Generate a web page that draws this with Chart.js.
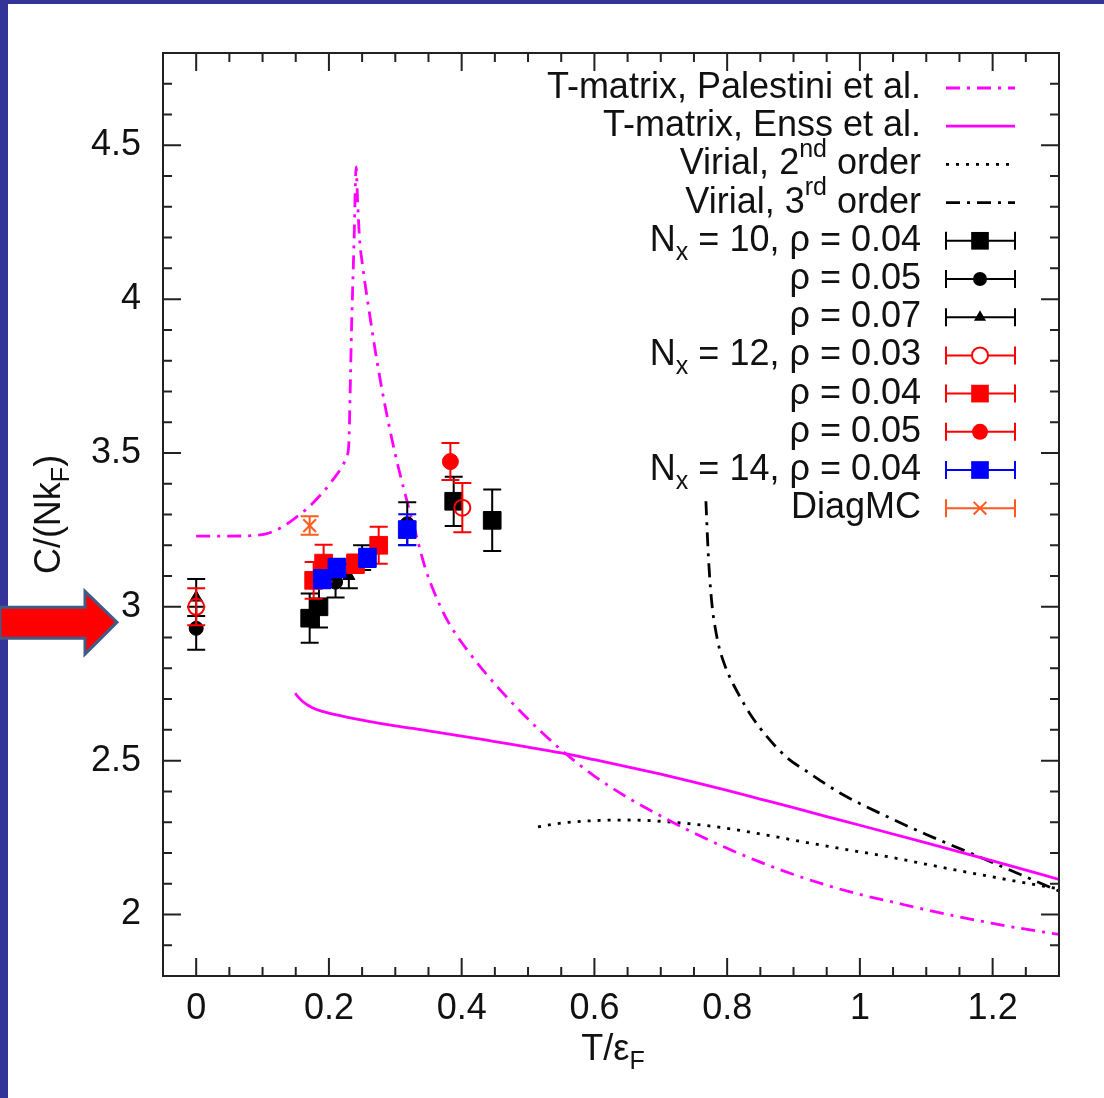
<!DOCTYPE html>
<html lang="en">
<head>
<meta charset="UTF-8">
<title>Contact C/(NkF) vs T/eF</title>
<script src="https://cdn.jsdelivr.net/npm/chart.js"></script>
<style>
  html, body { margin: 0; padding: 0; background: #fff; }
  #chartBox { width: 1104px; height: 1098px; position: relative; }
</style>
</head>
<body>
<div id="chartBox"><canvas id="contactChart" width="1104" height="1098"></canvas></div>
<script>
// ---- curves ----
const palestiniT = [0, 0.05, 0.09, 0.11, 0.13, 0.15, 0.17, 0.19, 0.205, 0.22, 0.227, 0.23, 0.232, 0.234, 0.236, 0.238, 0.241, 0.243, 0.246, 0.25, 0.26, 0.27, 0.28, 0.29, 0.3, 0.315, 0.33, 0.346, 0.36, 0.375, 0.39, 0.41, 0.43, 0.46, 0.5, 0.55, 0.6, 0.65, 0.7, 0.75, 0.8, 0.85, 0.9, 0.95, 1.0, 1.05, 1.1, 1.15, 1.2, 1.25, 1.3];
const palestiniC = [3.23, 3.23, 3.232, 3.24, 3.26, 3.29, 3.325, 3.37, 3.41, 3.457, 3.49, 3.53, 3.7, 3.9, 4.05, 4.2, 4.43, 4.33, 4.2, 4.12, 3.97, 3.83, 3.705, 3.595, 3.495, 3.365, 3.245, 3.12, 3.04, 2.97, 2.915, 2.855, 2.8, 2.725, 2.635, 2.535, 2.45, 2.38, 2.32, 2.265, 2.215, 2.17, 2.13, 2.095, 2.065, 2.04, 2.015, 1.992, 1.971, 1.952, 1.935];

const ennsT = [0.149, 0.16, 0.175, 0.19, 0.22, 0.26, 0.3, 0.35, 0.4, 0.45, 0.5, 0.55, 0.6, 0.65, 0.7, 0.75, 0.8, 0.85, 0.9, 0.95, 1.0, 1.1, 1.2, 1.3];
const ennsC = [2.719, 2.693, 2.672, 2.66, 2.645, 2.628, 2.613, 2.597, 2.58, 2.562, 2.544, 2.525, 2.503, 2.48, 2.456, 2.43, 2.403, 2.375, 2.347, 2.318, 2.29, 2.233, 2.174, 2.114];

const virial2T = [0.515, 0.55, 0.6, 0.65, 0.718, 0.8, 0.864, 0.95, 1.039, 1.155, 1.3];
const virial2C = [2.285, 2.297, 2.305, 2.307, 2.3, 2.28, 2.256, 2.222, 2.189, 2.14, 2.083];

const virial3T = [0.768, 0.771, 0.774, 0.778, 0.783, 0.788, 0.794, 0.8, 0.81, 0.82, 0.835, 0.86, 0.89, 0.922, 0.97, 1.039, 1.1, 1.155, 1.22, 1.3];
const virial3C = [3.343, 3.195, 3.086, 2.99, 2.92, 2.867, 2.825, 2.79, 2.745, 2.705, 2.65, 2.578, 2.51, 2.462, 2.395, 2.32, 2.26, 2.21, 2.15, 2.076];

// ---- lattice data with error bars ----
const n10r04T = [0.171, 0.185, 0.388, 0.446];
const n10r04C = [2.963, 3.0, 3.343, 3.281];
const n10r04E = [0.08, 0.067, 0.08, 0.1];

const n10r05T = [0, 0.21, 0.318];
const n10r05C = [2.93, 3.08, 3.27];
const n10r05E = [0.07, 0.05, 0.07];

const n10r07T = [0, 0.23, 0.25];
const n10r07C = [3.03, 3.1, 3.16];
const n10r07E = [0.06, 0.04, 0.04];

const n12r03T = [0, 0.401];
const n12r03C = [3.0, 3.322];
const n12r03E = [0.06, 0.08];

const n12r04T = [0.177, 0.192, 0.24, 0.275];
const n12r04C = [3.086, 3.142, 3.14, 3.2];
const n12r04E = [0.06, 0.06, 0.03, 0.06];

const n12r05T = [0.383];
const n12r05C = [3.472];
const n12r05E = [0.06];

const n14r04T = [0.19, 0.212, 0.258, 0.318];
const n14r04C = [3.09, 3.126, 3.159, 3.251];
const n14r04E = [0.03, 0.03, 0.03, 0.05];

const diagT = [0.171];
const diagC = [3.264];
const diagE = [0.03];

// ---- axes ----
const xTickValues = [0, 0.2, 0.4, 0.6, 0.8, 1, 1.2];
const yTickValues = [2, 2.5, 3, 3.5, 4, 4.5];
const arrowValue = 2.95;

const FONT = "'Liberation Sans', Arial, sans-serif";
const BIG = 36, SMALL = 25;
const MAGENTA = '#ff00ff', RED = '#ff0000', BLUE = '#0000ff', ORANGE = '#ff5a1f', BLACK = '#000000';

function zip(xs, ys) { return xs.map((x, i) => ({ x: x, y: ys[i] })); }

function curve(label, rich, xs, ys, color, dash) {
    return {
        label: label, rich: rich, data: zip(xs, ys),
        showLine: true, borderColor: color, borderWidth: 2.8, borderDash: dash,
        pointRadius: 0, cubicInterpolationMode: 'monotone', fill: false
    };
}
function points(label, rich, xs, ys, errs, color, style, r, open) {
    return {
        label: label, rich: rich, data: zip(xs, ys), errors: errs,
        showLine: false, pointStyle: style, pointRadius: r, pointHoverRadius: r,
        pointBackgroundColor: open ? 'rgba(0,0,0,0)' : color, pointBorderColor: color,
        pointBorderWidth: (open || style === 'crossRot') ? 2 : 1, errColor: color
    };
}

// first in the list is drawn on top
const datasets = [
    points('N_x = 14, rho = 0.04', [['N'], ['x', 'sub'], [' = 14, ρ = 0.04']], n14r04T, n14r04C, n14r04E, BLUE, 'rect', 12.5),
    points('rho = 0.05', [['ρ = 0.05']], n12r05T, n12r05C, n12r05E, RED, 'circle', 8),
    points('rho = 0.04', [['ρ = 0.04']], n12r04T, n12r04C, n12r04E, RED, 'rect', 12.5),
    points('N_x = 12, rho = 0.03', [['N'], ['x', 'sub'], [' = 12, ρ = 0.03']], n12r03T, n12r03C, n12r03E, RED, 'circle', 8, true),
    points('DiagMC', [['DiagMC']], diagT, diagC, diagE, ORANGE, 'crossRot', 9),
    points('rho = 0.07', [['ρ = 0.07']], n10r07T, n10r07C, n10r07E, BLACK, 'triangle', 7),
    points('rho = 0.05', [['ρ = 0.05']], n10r05T, n10r05C, n10r05E, BLACK, 'circle', 7),
    points('N_x = 10, rho = 0.04', [['N'], ['x', 'sub'], [' = 10, ρ = 0.04']], n10r04T, n10r04C, n10r04E, BLACK, 'rect', 12.5),
    curve('T-matrix, Palestini et al.', [['T-matrix, Palestini et al.']], palestiniT, palestiniC, MAGENTA, [14, 7, 3, 7]),
    curve('T-matrix, Enss et al.', [['T-matrix, Enss et al.']], ennsT, ennsC, MAGENTA, []),
    curve('Virial, 2nd order', [['Virial, 2'], ['nd', 'sup'], [' order']], virial2T, virial2C, BLACK, [3, 7]),
    curve('Virial, 3rd order', [['Virial, 3'], ['rd', 'sup'], [' order']], virial3T, virial3C, BLACK, [14, 7, 3, 7])
];
// order of the key, top to bottom
const legendOrder = [8, 9, 10, 11, 7, 6, 5, 3, 2, 1, 0, 4];

function drawRich(ctx, parts, x, y, align) {
    let total = 0;
    parts.forEach(p => { ctx.font = (p[1] ? SMALL : BIG) + 'px ' + FONT; total += ctx.measureText(p[0]).width; });
    let cx = align === 'right' ? x - total : (align === 'center' ? x - total / 2 : x);
    ctx.textAlign = 'left';
    ctx.textBaseline = 'middle';
    parts.forEach(p => {
        ctx.font = (p[1] ? SMALL : BIG) + 'px ' + FONT;
        const dy = p[1] === 'sub' ? 12 : (p[1] === 'sup' ? -14 : 0);
        ctx.fillText(p[0], cx, y + dy);
        cx += ctx.measureText(p[0]).width;
    });
}

function drawMarker(ctx, style, r, x, y, open) {
    ctx.beginPath();
    if (style === 'rect') {
        const s = r * Math.SQRT1_2;
        ctx.rect(x - s, y - s, 2 * s, 2 * s);
        ctx.fill();
    } else if (style === 'circle') {
        ctx.arc(x, y, r, 0, 2 * Math.PI);
        if (open) { ctx.fillStyle = '#fff'; ctx.fill(); ctx.stroke(); } else ctx.fill();
    } else if (style === 'triangle') {
        ctx.moveTo(x, y - r);
        ctx.lineTo(x + r * 0.866, y + r * 0.5);
        ctx.lineTo(x - r * 0.866, y + r * 0.5);
        ctx.closePath();
        ctx.fill();
    } else if (style === 'crossRot') {
        const s = r * Math.SQRT1_2;
        ctx.moveTo(x - s, y - s); ctx.lineTo(x + s, y + s);
        ctx.moveTo(x - s, y + s); ctx.lineTo(x + s, y - s);
        ctx.stroke();
    }
}

const gnuplotLook = {
    id: 'gnuplotLook',
    beforeDraw(chart) {
        const ctx = chart.ctx;
        ctx.save();
        ctx.fillStyle = '#fff';
        ctx.fillRect(0, 0, chart.width, chart.height);
        ctx.fillStyle = '#333399';
        ctx.fillRect(0, 0, 8, chart.height);
        ctx.fillRect(0, 0, chart.width, 4);
        ctx.restore();
    },
    beforeDatasetDraw(chart, args) {
        const ds = chart.data.datasets[args.index];
        if (!ds.errors) return;
        const ctx = chart.ctx, xs = chart.scales.x, ys = chart.scales.y;
        ctx.save();
        ctx.strokeStyle = ds.errColor;
        ctx.lineWidth = 2;
        ds.data.forEach((p, i) => {
            const px = xs.getPixelForValue(p.x);
            const y1 = ys.getPixelForValue(p.y - ds.errors[i]);
            const y2 = ys.getPixelForValue(p.y + ds.errors[i]);
            ctx.beginPath();
            ctx.moveTo(px, y1); ctx.lineTo(px, y2);
            ctx.moveTo(px - 9, y1); ctx.lineTo(px + 9, y1);
            ctx.moveTo(px - 9, y2); ctx.lineTo(px + 9, y2);
            ctx.stroke();
        });
        ctx.restore();
    },
    afterDraw(chart) {
        const ctx = chart.ctx, a = chart.chartArea, xs = chart.scales.x, ys = chart.scales.y;
        ctx.save();
        // frame and inward ticks on all four sides
        ctx.strokeStyle = '#222';
        ctx.lineWidth = 2;
        ctx.strokeRect(a.left, a.top, a.right - a.left, a.bottom - a.top);
        ctx.beginPath();
        for (let k = -1; k <= 26; k++) {
            const v = k * 0.05;
            if (v < xs.min - 1e-9 || v > xs.max + 1e-9) continue;
            const px = xs.getPixelForValue(v);
            const len = (k % 4 === 0) ? 18 : 9;
            ctx.moveTo(px, a.bottom); ctx.lineTo(px, a.bottom - len);
            ctx.moveTo(px, a.top); ctx.lineTo(px, a.top + len);
        }
        for (let k = 18; k <= 48; k++) {
            const v = k / 10;
            const py = ys.getPixelForValue(v);
            const len = (k % 5 === 0) ? 18 : 9;
            ctx.moveTo(a.left, py); ctx.lineTo(a.left + len, py);
            ctx.moveTo(a.right, py); ctx.lineTo(a.right - len, py);
        }
        ctx.stroke();

        // axis titles
        ctx.fillStyle = '#111';
        drawRich(ctx, [['T/ε'], ['F', 'sub']], (a.left + a.right) / 2 + 2, 1050, 'center');
        ctx.save();
        ctx.translate(50, (a.top + a.bottom) / 2);
        ctx.rotate(-Math.PI / 2);
        drawRich(ctx, [['C/(Nk'], ['F', 'sub'], [')']], 0, 0, 'center');
        ctx.restore();

        // key
        legendOrder.forEach((di, row) => {
            const ds = chart.data.datasets[di];
            const y = 88 + row * 38.2;
            ctx.fillStyle = '#111';
            drawRich(ctx, ds.rich, 921, y, 'right');
            ctx.save();
            if (ds.errors) {
                ctx.strokeStyle = ds.errColor;
                ctx.lineWidth = 2;
                ctx.beginPath();
                ctx.moveTo(946, y); ctx.lineTo(1015, y);
                ctx.moveTo(946, y - 9); ctx.lineTo(946, y + 9);
                ctx.moveTo(1015, y - 9); ctx.lineTo(1015, y + 9);
                ctx.stroke();
                ctx.fillStyle = ds.errColor;
                drawMarker(ctx, ds.pointStyle, ds.pointRadius, 980, y,
                    ds.pointBackgroundColor === 'rgba(0,0,0,0)');
            } else {
                ctx.strokeStyle = ds.borderColor;
                ctx.lineWidth = ds.borderWidth;
                ctx.setLineDash(ds.borderDash);
                ctx.beginPath();
                ctx.moveTo(946, y); ctx.lineTo(1015, y);
                ctx.stroke();
            }
            ctx.restore();
        });

        // red pointer arrow at the left
        const yA = ys.getPixelForValue(arrowValue);
        ctx.beginPath();
        ctx.moveTo(0, yA - 15); ctx.lineTo(85, yA - 15); ctx.lineTo(85, yA - 31);
        ctx.lineTo(117, yA); ctx.lineTo(85, yA + 32); ctx.lineTo(85, yA + 16);
        ctx.lineTo(0, yA + 16); ctx.closePath();
        ctx.fillStyle = '#ff0000';
        ctx.fill();
        ctx.strokeStyle = '#3e5c86';
        ctx.lineWidth = 3;
        ctx.stroke();
        ctx.restore();
    }
};

const fmt = v => String(+Number(v).toFixed(2));

new Chart(document.getElementById('contactChart').getContext('2d'), {
    type: 'scatter',
    data: { datasets: datasets },
    options: {
        responsive: false,
        animation: false,
        events: [],
        layout: { padding: { left: 0, top: 53, right: 45, bottom: 0 } },
        plugins: { legend: { display: false }, tooltip: { enabled: false } },
        scales: {
            x: {
                type: 'linear', min: -0.05, max: 1.3,
                grid: { display: false, drawTicks: false }, border: { display: false },
                afterBuildTicks: s => { s.ticks = xTickValues.map(v => ({ value: v })); },
                afterFit: s => { s.height = 122; },
                ticks: { padding: 11, color: '#111', font: { family: FONT, size: BIG }, callback: fmt, maxRotation: 0, autoSkip: false }
            },
            y: {
                type: 'linear', min: 1.8, max: 4.8,
                grid: { display: false, drawTicks: false }, border: { display: false },
                afterBuildTicks: s => { s.ticks = yTickValues.map(v => ({ value: v })); },
                afterFit: s => { s.width = 163; },
                ticks: { padding: 22, color: '#111', font: { family: FONT, size: BIG }, callback: fmt, autoSkip: false }
            }
        }
    },
    plugins: [gnuplotLook]
});
</script>
</body>
</html>
